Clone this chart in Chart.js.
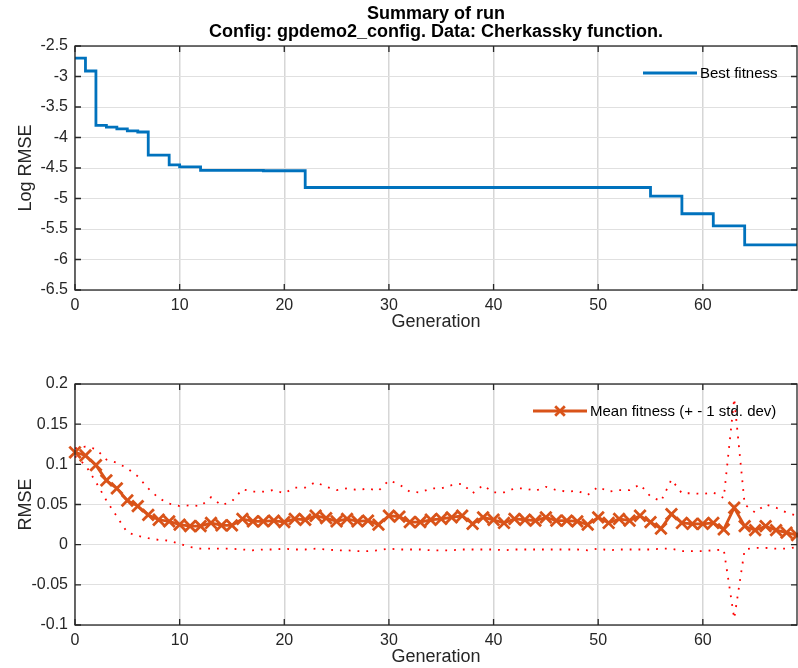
<!DOCTYPE html>
<html><head><meta charset="utf-8">
<script src="https://cdn.jsdelivr.net/npm/chart.js@4/dist/chart.umd.min.js"></script>
<style>
html,body{margin:0;padding:0;background:#fff;overflow:hidden;}
#c1{position:absolute;left:0;top:0;}
#c2{position:absolute;left:0;top:345px;}
</style></head><body>
<canvas id="c1" width="798" height="345"></canvas>
<canvas id="c2" width="798" height="323"></canvas>
<script>
const generations = [0,1,2,3,4,5,6,7,8,9,10,11,12,13,14,15,16,17,18,19,20,21,22,23,24,25,26,27,28,29,30,31,32,33,34,35,36,37,38,39,40,41,42,43,44,45,46,47,48,49,50,51,52,53,54,55,56,57,58,59,60,61,62,63,64,65,66,67,68,69];

const bestFitness = [
 -2.70,-2.91,-3.80,-3.83,-3.86,-3.89,-3.91,-4.29,-4.29,-4.45,
 -4.48,-4.48,-4.54,-4.54,-4.54,-4.54,-4.54,-4.54,-4.545,-4.545,
 -4.545,-4.545,-4.82,-4.82,-4.82,-4.82,-4.82,-4.82,-4.82,-4.82,
 -4.82,-4.82,-4.82,-4.82,-4.82,-4.82,-4.82,-4.82,-4.82,-4.82,
 -4.82,-4.82,-4.82,-4.82,-4.82,-4.82,-4.82,-4.82,-4.82,-4.82,
 -4.82,-4.82,-4.82,-4.82,-4.82,-4.96,-4.96,-4.96,-5.25,-5.25,
 -5.25,-5.45,-5.45,-5.45,-5.76,-5.76,-5.76,-5.76,-5.76,-5.76];

const meanFitness = [
 0.115,0.111,0.099,0.080,0.070,0.055,0.048,0.037,0.031,0.029,
 0.025,0.023,0.023,0.027,0.024,0.024,0.032,0.029,0.029,0.030,
 0.028,0.032,0.031,0.036,0.033,0.029,0.032,0.029,0.030,0.025,
 0.036,0.035,0.028,0.028,0.031,0.032,0.034,0.036,0.026,0.034,
 0.031,0.027,0.032,0.031,0.030,0.034,0.030,0.030,0.029,0.025,
 0.034,0.027,0.032,0.030,0.036,0.028,0.020,0.038,0.027,0.026,
 0.026,0.027,0.019,0.046,0.023,0.018,0.023,0.018,0.015,0.012];

const upperStd = [
 0.120,0.122,0.119,0.106,0.102,0.095,0.085,0.070,0.058,0.051,
 0.048,0.049,0.048,0.059,0.049,0.054,0.069,0.066,0.066,0.068,
 0.064,0.071,0.071,0.078,0.072,0.068,0.070,0.068,0.070,0.067,
 0.080,0.075,0.066,0.065,0.070,0.070,0.074,0.076,0.064,0.074,
 0.065,0.065,0.070,0.070,0.067,0.072,0.068,0.066,0.067,0.062,
 0.072,0.066,0.068,0.068,0.075,0.060,0.054,0.081,0.064,0.064,
 0.063,0.065,0.058,0.182,0.050,0.040,0.050,0.046,0.040,0.036];

const lowerStd = [
 0.110,0.099,0.078,0.055,0.035,0.015,0.011,0.008,0.006,0.005,
 0.001,-0.003,-0.005,-0.005,-0.005,-0.005,-0.006,-0.007,-0.006,-0.006,
 -0.005,-0.006,-0.006,-0.005,-0.006,-0.007,-0.007,-0.008,-0.008,-0.007,
 -0.005,-0.006,-0.006,-0.006,-0.007,-0.007,-0.007,-0.006,-0.006,-0.006,
 -0.006,-0.007,-0.006,-0.006,-0.006,-0.006,-0.006,-0.006,-0.006,-0.007,
 -0.005,-0.007,-0.006,-0.006,-0.006,-0.006,-0.005,-0.005,-0.008,-0.008,
 -0.008,-0.007,-0.006,-0.092,-0.006,-0.004,-0.004,-0.005,-0.005,-0.003];

const titleLines = ['Summary of run', 'Config: gpdemo2_config. Data: Cherkassky function.'];
const xTitle = 'Generation';
const topYTitle = 'Log RMSE';
const botYTitle = 'RMSE';
const topLegend = 'Best fitness';
const botLegend = 'Mean fitness (+ - 1 std. dev)';

const FONT = "'Liberation Sans', Arial, Helvetica, sans-serif";
const AX = '#262626';
const BLUE = '#0072BD';
const ORANGE = '#D95319';

const pts = ys => generations.map((g, i) => ({x: g, y: ys[i]}));
const fmt = v => String(Math.round(v * 1000) / 1000);

const boxPlugin = {
  id: 'matlabBox',
  afterDraw(chart, args, opts) {
    const {ctx, chartArea: a, scales} = chart;
    ctx.save();
    ctx.strokeStyle = AX; ctx.lineWidth = 1.3;
    ctx.strokeRect(a.left, a.top, a.right - a.left, a.bottom - a.top);
    const L = 6;
    ctx.beginPath();
    scales.x.ticks.forEach(t => {
      const px = scales.x.getPixelForValue(t.value);
      ctx.moveTo(px, a.bottom); ctx.lineTo(px, a.bottom - L);
      ctx.moveTo(px, a.top); ctx.lineTo(px, a.top + L);
    });
    scales.y.ticks.forEach(t => {
      const py = scales.y.getPixelForValue(t.value);
      ctx.moveTo(a.left, py); ctx.lineTo(a.left + L, py);
      ctx.moveTo(a.right, py); ctx.lineTo(a.right - L, py);
    });
    ctx.stroke();
    if (opts.legend) {
      const lg = opts.legend;
      const ds = chart.data.datasets[0];
      const y = a.top + lg.dy;
      const x1 = a.right - lg.x1, x2 = a.right - lg.x2;
      ctx.strokeStyle = ds.borderColor; ctx.lineWidth = ds.borderWidth;
      ctx.beginPath(); ctx.moveTo(x1, y); ctx.lineTo(x2, y); ctx.stroke();
      if (ds.pointStyle && ds.pointRadius > 0) {
        ctx.lineWidth = ds.pointBorderWidth;
        Chart.helpers.drawPoint(ctx, {pointStyle: ds.pointStyle, radius: ds.pointRadius * 0.85, borderWidth: ds.pointBorderWidth, rotation: 0}, (x1 + x2) / 2, y);
      }
      ctx.fillStyle = '#000'; ctx.font = '15px ' + FONT;
      ctx.textAlign = 'left'; ctx.textBaseline = 'middle';
      ctx.fillText(lg.text, x2 + 3, y + 1);
    }
    if (opts.title) {
      ctx.fillStyle = '#000'; ctx.font = 'bold 18px ' + FONT;
      ctx.textAlign = 'center'; ctx.textBaseline = 'middle';
      const cx = (a.left + a.right) / 2;
      opts.title.forEach((t, i) => ctx.fillText(t, cx, 14.5 + i * 18));
    }
    ctx.restore();
  }
};

function xScale(h, titlePadBottom) {
  return {
    type: 'linear', min: 0, max: 69,
    afterFit: s => { s.height = h; },
    ticks: {stepSize: 10, includeBounds: false, color: AX, font: {family: FONT, size: 16}, padding: 6, maxRotation: 0, callback: v => fmt(v)},
    grid: {color: '#d6d6d6', lineWidth: 1.5, drawTicks: false},
    border: {display: false},
    title: {display: true, text: xTitle, color: AX, font: {family: FONT, size: 18}, padding: {top: 0, bottom: titlePadBottom}}
  };
}
function yScale(min, max, step, title) {
  return {
    min: min, max: max,
    afterFit: s => { s.width = 75; },
    ticks: {stepSize: step, color: AX, font: {family: FONT, size: 16}, padding: 7, callback: v => fmt(v)},
    grid: {color: '#e0e0e0', lineWidth: 1, drawTicks: false},
    border: {display: false},
    title: {display: true, text: title, color: AX, font: {family: FONT, size: 18}, padding: {top: 15, bottom: 0}}
  };
}

new Chart(document.getElementById('c1'), {
  type: 'line',
  data: {datasets: [{
    label: topLegend, data: pts(bestFitness), stepped: 'before',
    borderColor: BLUE, borderWidth: 2.8, pointRadius: 0, fill: false, clip: false
  }]},
  options: {
    responsive: false, animation: false, devicePixelRatio: 1,
    layout: {autoPadding: false, padding: {top: 46, right: 1, left: 0, bottom: 0}},
    plugins: {legend: {display: false}, tooltip: {enabled: false},
      matlabBox: {title: titleLines, legend: {text: topLegend, x1: 154, x2: 100, dy: 27}}},
    scales: {x: xScale(55, 12), y: yScale(-6.5, -2.5, 0.5, topYTitle)}
  },
  plugins: [boxPlugin]
});

new Chart(document.getElementById('c2'), {
  type: 'line',
  data: {datasets: [
    {label: botLegend, data: pts(meanFitness), borderColor: ORANGE, borderWidth: 2.8,
     pointStyle: 'crossRot', pointRadius: 8, pointBorderWidth: 2.8, pointBorderColor: ORANGE,
     pointBackgroundColor: ORANGE, tension: 0, fill: false, clip: false},
    {label: 'upper', data: pts(upperStd), borderColor: '#ff0000', borderWidth: 1.8, borderDash: [1.8, 7],
     pointRadius: 0, tension: 0, fill: false, clip: false},
    {label: 'lower', data: pts(lowerStd), borderColor: '#ff0000', borderWidth: 1.8, borderDash: [1.8, 7],
     pointRadius: 0, tension: 0, fill: false, clip: false}
  ]},
  options: {
    responsive: false, animation: false, devicePixelRatio: 1,
    layout: {autoPadding: false, padding: {top: 39, right: 1, left: 0, bottom: 0}},
    plugins: {legend: {display: false}, tooltip: {enabled: false},
      matlabBox: {legend: {text: botLegend, x1: 264, x2: 210, dy: 27}}},
    scales: {x: xScale(43, 0), y: yScale(-0.1, 0.2, 0.05, botYTitle)}
  },
  plugins: [boxPlugin]
});
</script>
</body></html>
